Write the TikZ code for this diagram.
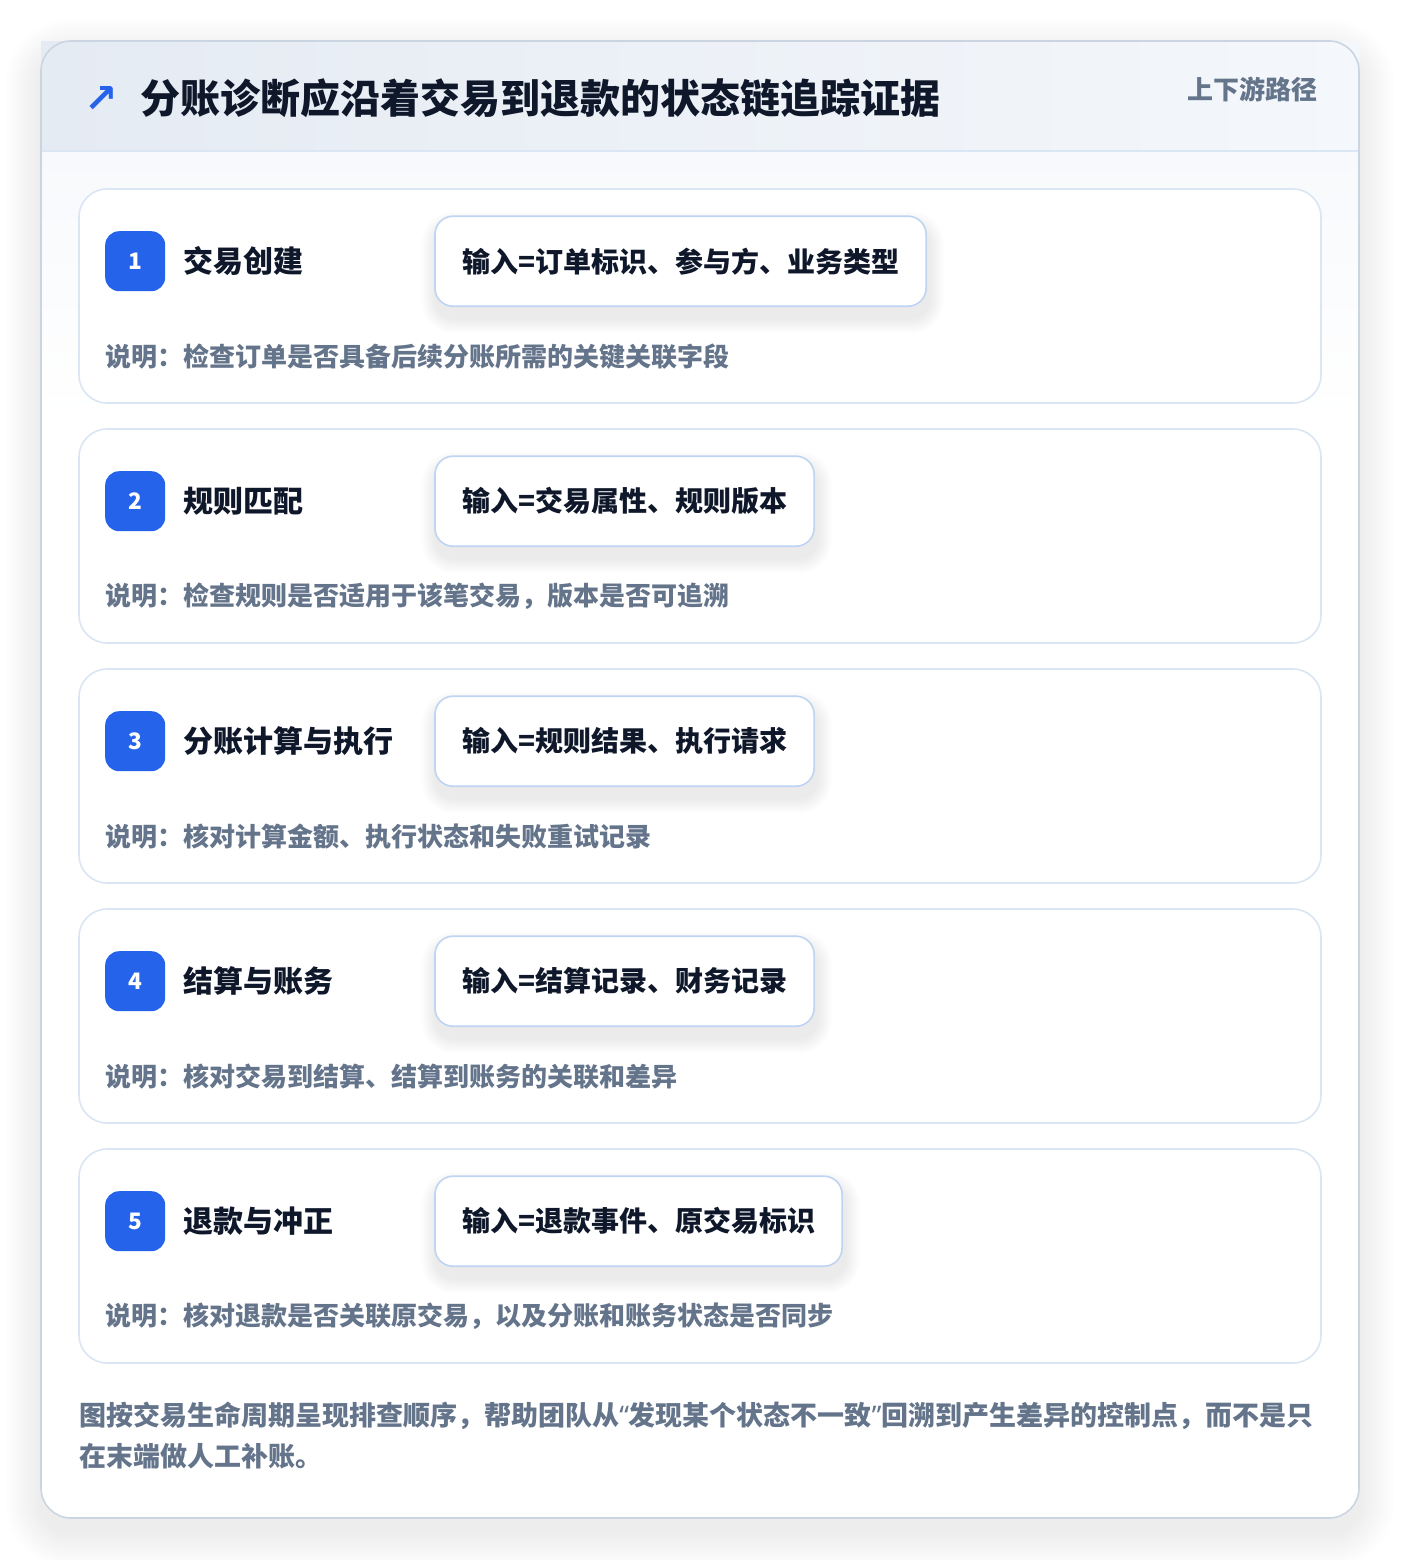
\documentclass[tikz,border=0pt]{standalone}
\usepackage{fontspec}
\setmainfont{Noto Sans CJK SC}
\newfontfamily\symfont{DejaVu Sans}
\newfontfamily\latinfont{Noto Sans}
\usetikzlibrary{positioning,calc}
\pgfdeclarelayer{cards}
\pgfdeclarelayer{shadow}
\pgfsetlayers{cards,shadow,main}
\definecolor{ink}{HTML}{0F172A}
\definecolor{muted}{HTML}{64748B}
\definecolor{accent}{HTML}{2563EB}
\definecolor{cardedge}{HTML}{DBE6F5}
\definecolor{boxedge}{HTML}{BFD4F2}
\definecolor{frame}{HTML}{CBD5E1}
\definecolor{headleft}{HTML}{E5EBF3}
\definecolor{headright}{HTML}{F4F7FB}
\definecolor{bodytop}{HTML}{F7F9FC}

\begin{document}
\begin{tikzpicture}[x=0.75pt,y=-0.75pt,
  stepcard/.style={rectangle,draw=cardedge,line width=1.2pt,fill=white,
    rounded corners=21pt,minimum width=931.5pt,minimum height=160.5pt},
  badge/.style={rectangle,fill=accent,rounded corners=10.5pt,minimum size=45pt,
    inner sep=0pt,text=white,font=\fontsize{17pt}{18pt}\selectfont\bfseries},
  steptitle/.style={inner sep=0pt,text=ink,font=\fontsize{22.5pt}{26pt}\selectfont\bfseries},
  inputbox/.style={rectangle,draw=boxedge,line width=1.2pt,fill=white,
    rounded corners=13.5pt,minimum height=67.5pt,inner xsep=20.25pt,text=ink,
    font=\fontsize{21pt}{24pt}\selectfont\bfseries},
  stepnote/.style={inner sep=0pt,text=muted,font=\fontsize{19.5pt}{22pt}\selectfont\bfseries},
  softshade/.style={black,opacity=#1}]
\useasboundingbox (0,0) rectangle (1400,1560);

% outer frame shadow
\begin{pgfonlayer}{cards}
  \foreach \k in {1,...,18}{
    \pgfmathsetmacro\rc{22.5+\k*1.5}
    \fill[softshade=0.004,rounded corners=\rc pt]
      (41-\k*2,41-\k*2+14) rectangle (1359+\k*2,1518+\k*2+14);
  }
\end{pgfonlayer}

% outer frame with header band
\begin{pgfonlayer}{cards}
\fill[white,rounded corners=22.5pt] (41,41) rectangle (1359,1518);
\begin{scope}
  \clip (41,41) -- (1359-22.5,41) arc[start angle=90,end angle=0,radius=30]
    -- (1359,1518) -- (41,1518) -- cycle;
  \shade[left color=headleft,right color=headright] (41,41) rectangle (1359,151);
  \shade[top color=bodytop,bottom color=white] (41,151) rectangle (1359,420);
\end{scope}
\draw[cardedge,line width=1.2pt] (41,151) -- (1359,151);
\draw[frame,line width=1.2pt,rounded corners=22.5pt] (41,41) rectangle (1359,1518);
\end{pgfonlayer}

% header
\node[text=accent,inner sep=0pt,font=\symfont\fontsize{30pt}{32pt}\selectfont\bfseries] (icon) at (101,99) {↗};
\node[anchor=west,inner sep=0pt,text=ink,font=\fontsize{30pt}{34pt}\selectfont\bfseries]
  (heading) at (140,98) {分账诊断应沿着交易到退款的状态链追踪证据};
\node[anchor=east,inner sep=0pt,text=muted,font=\fontsize{19.5pt}{22pt}\selectfont\bfseries]
  (route) at (1318,89) {上下游路径};

% steps
\foreach \i/\stitle/\sinput/\snote in {%
  1/交易创建/输入=订单标识、参与方、业务类型/说明：检查订单是否具备后续分账所需的关键关联字段,
  2/规则匹配/输入=交易属性、规则版本/说明：检查规则是否适用于该笔交易，版本是否可追溯,
  3/分账计算与执行/输入=规则结果、执行请求/说明：核对计算金额、执行状态和失败重试记录,
  4/结算与账务/输入=结算记录、财务记录/说明：核对交易到结算、结算到账务的关联和差异,
  5/退款与冲正/输入=退款事件、原交易标识/说明：核对退款是否关联原交易，以及分账和账务状态是否同步}{
  \pgfmathsetmacro\ty{189+(\i-1)*240}
  \begin{pgfonlayer}{cards}
    \node[stepcard] (card\i) at (700,\ty+107) {};
  \end{pgfonlayer}
  \node[badge] (badge\i) at ($(card\i.north west)+(57,73)$) {\i};
  \node[steptitle,right=13.5pt of badge\i] (title\i) {\stitle};
  \node[inputbox,anchor=west] (input\i) at ($(card\i.north west)+(356,73)$) {\sinput};
  \node[stepnote,anchor=west] (note\i) at ($(card\i.north west)+(27,168)$) {\snote};
  % soft shadow under the input box
  \begin{pgfonlayer}{shadow}
    \foreach \k in {1,...,10}{
      \pgfmathsetmacro\rc{13.5+\k*1.1}
      \fill[softshade=0.007,rounded corners=\rc pt]
        ($(input\i.north west)+(2-\k*1.5,11-\k*1.5)$) rectangle
        ($(input\i.south east)+(2+\k*1.5,11+\k*1.5)$);
    }
  \end{pgfonlayer}
}

% footer
\node[anchor=north west,inner sep=0pt,align=left,text=muted,
  font=\fontsize{20.25pt}{30.75pt}\selectfont\bfseries] (summary) at (79,1402)
  {图按交易生命周期呈现排查顺序，帮助团队从{\latinfont“}发现某个状态不一致{\latinfont”}回溯到产生差异的控制点，而不是只\\在末端做人工补账。};
\end{tikzpicture}
\end{document}
